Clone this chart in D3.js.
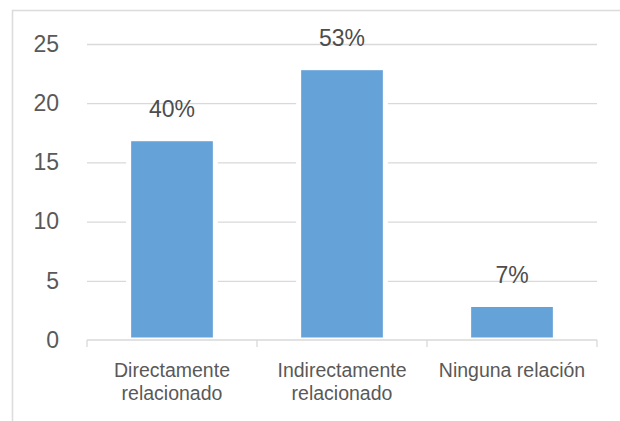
<!DOCTYPE html>
<html>
<head>
<meta charset="utf-8">
<script src="https://cdn.jsdelivr.net/npm/d3@7"></script>
<style>
  html, body { margin: 0; padding: 0; background: #ffffff; }
  svg { display: block; }
  text { font-family: "Liberation Sans", Arial, sans-serif; }
</style>
</head>
<body>
<svg id="chart" width="620" height="421"></svg>
<script>
// Categories (two-line labels), counts and percentage labels
const categories = [
  ["Directamente", "relacionado"],
  ["Indirectamente", "relacionado"],
  ["Ninguna relación"]
];
const counts = [17, 23, 3];
const percentLabels = ["40%", "53%", "7%"];
const yTicks = [0, 5, 10, 15, 20, 25];

const svg = d3.select("#chart");
const W = 620, H = 421;
const plotLeft = 87, plotRight = 597, plotTop = 44, plotBottom = 340;

// Light frame around the chart area
svg.append("rect")
  .attr("x", 12.5).attr("y", 10.5)
  .attr("width", W + 20).attr("height", H + 20)
  .attr("fill", "none")
  .attr("stroke", "#dcdcdc")
  .attr("stroke-width", 1.6);

const x = d3.scaleBand()
  .domain(d3.range(categories.length))
  .range([plotLeft, plotRight])
  .paddingInner(0.49)
  .paddingOuter(0.245);

const y = d3.scaleLinear().domain([0, 25]).range([plotBottom, plotTop]);

// Horizontal gridlines and y tick labels
const yAxis = d3.axisLeft(y).tickValues(yTicks).tickSize(-(plotRight - plotLeft)).tickPadding(28);
const gy = svg.append("g").attr("transform", `translate(${plotLeft},0)`).call(yAxis);
gy.select(".domain").remove();
gy.selectAll(".tick line")
  .attr("stroke", "#d9d9d9")
  .attr("stroke-width", 1.3)
  .filter(d => d === 0).remove();
gy.selectAll(".tick text")
  .attr("fill", "#595959")
  .attr("font-size", 23)
  .attr("font-family", "Liberation Sans, Arial, sans-serif");

// Bars with a white border that also breaks the gridlines
svg.append("g").selectAll("rect")
  .data(counts)
  .join("rect")
  .attr("x", (d, i) => x(i))
  .attr("width", x.bandwidth())
  .attr("y", d => y(d))
  .attr("height", d => y(0) - y(d))
  .attr("fill", "#64a2d8")
  .attr("stroke", "#ffffff")
  .attr("stroke-width", 5);

// Category axis: baseline with ticks at band boundaries
const gx = svg.append("g");
gx.append("line")
  .attr("x1", plotLeft).attr("x2", plotRight)
  .attr("y1", y(0)).attr("y2", y(0))
  .attr("stroke", "#d9d9d9").attr("stroke-width", 1.3);
const boundaries = d3.range(categories.length + 1).map(i => plotLeft + i * x.step());
gx.selectAll(".tk")
  .data(boundaries)
  .join("line")
  .attr("class", "tk")
  .attr("x1", d => d).attr("x2", d => d)
  .attr("y1", y(0)).attr("y2", y(0) + 7)
  .attr("stroke", "#d9d9d9").attr("stroke-width", 1.3);

// Category labels
const catText = svg.append("g").selectAll("text")
  .data(categories)
  .join("text")
  .attr("text-anchor", "middle")
  .attr("fill", "#595959")
  .attr("font-size", 19.5);
catText.each(function(lines, i) {
  const t = d3.select(this);
  lines.forEach((ln, j) => {
    t.append("tspan")
      .attr("x", x(i) + x.bandwidth() / 2)
      .attr("y", 377 + j * 23)
      .text(ln);
  });
});

// Percentage labels above bars
svg.append("g").selectAll("text")
  .data(counts)
  .join("text")
  .attr("x", (d, i) => x(i) + x.bandwidth() / 2)
  .attr("y", d => y(d) - 21.5)
  .attr("text-anchor", "middle")
  .attr("fill", "#4d4d4d")
  .attr("font-size", 23)
  .text((d, i) => percentLabels[i]);
</script>
</body>
</html>
